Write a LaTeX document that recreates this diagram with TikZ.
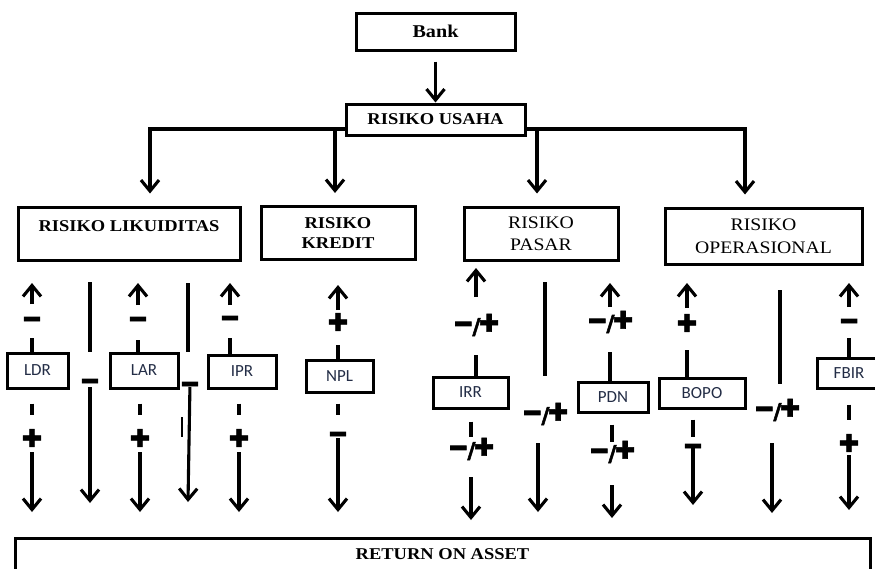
\documentclass[tikz,border=0pt]{standalone}
\usepackage{fontspec}
\setmainfont{Liberation Serif}[FakeStretch=1.12]
\newfontfamily\lblfont{Carlito}
\newfontfamily\signfont{DejaVu Sans Bold}[FakeBold=2.5]
\usetikzlibrary{arrows.meta}
\definecolor{lbl}{RGB}{35,45,70}
\newcommand\sgnminus{\scalebox{1.15}[1.55]{−}}
\newcommand\sgnplus{\scalebox{1.1}{✚}}
\newcommand\sgnboth{\raisebox{-3pt}{\sgnminus}\kern-1.5pt\raisebox{-2.5pt}{/}\kern-1.5pt\sgnplus}
\begin{document}
\begin{tikzpicture}[x=1pt,y=-1pt,
  conn/.style={line width=3.1pt},
  arr/.style={conn,-{Straight Barb[length=11pt,width=18pt]}},
  box/.style={draw,line width=3pt,fill=white,inner sep=0pt},
  bold/.style={font=\bfseries\fontsize{16.5}{20}\selectfont},
  plain/.style={font=\fontsize{17.6}{22}\selectfont},
  ind/.style={box,font=\lblfont\fontsize{17}{17}\selectfont,text=lbl},
  sgn/.style={inner sep=0pt,font=\signfont\fontsize{22}{22}\selectfont},
  sgnm/.style={sgn,text height=23.5pt,text depth=0pt},
  sgnb/.style={sgn,yshift=-2pt},
]
\useasboundingbox (0,0) rectangle (875,568);

% bus coordinates
\coordinate (busC) at (435.5,129);
\coordinate (busL) at (150,129);
\coordinate (busK) at (335,129);
\coordinate (busP) at (537,129);
\coordinate (busR) at (745,129);

% risk boxes
\node[box,bold,minimum width=222,minimum height=53,text height=11pt,text depth=16pt] (liq) at (129,233.5) {RISIKO LIKUIDITAS};
\node[box,bold,align=center,minimum width=154,minimum height=53] (kred) at (338,233) {RISIKO\\KREDIT};
\node[box,plain,align=center,minimum width=154,minimum height=53] (pasar) at (541,233.5) {RISIKO\\PASAR};
\node[box,align=center,font=\fontsize{17.6}{23}\selectfont,minimum width=197,minimum height=56] (oper) at (763.5,236) {RISIKO\\OPERASIONAL};

\draw[arr,shorten >=12pt] (busC) -- (busL) -- (busL |- liq.north);
\draw[arr,shorten >=12pt] (busC) -- (busR) -- (busR |- oper.north);
\draw[arr,shorten >=12pt] (busK) -- (busK |- kred.north);
\draw[arr,shorten >=12pt] (busP) -- (busP |- pasar.north);

\node[box,bold,minimum width=179,minimum height=31] (usaha) at (435.5,119.5) {RISIKO USAHA};
\node[box,font=\bfseries\fontsize{18}{20}\selectfont,minimum width=159,minimum height=37] (bank) at (435.5,31.5) {Bank};
\draw[arr,shorten <=10pt] (bank.south) -- (usaha.north);

% return on asset
\node[box,bold,minimum width=855,minimum height=46,text height=12pt,text depth=16pt] (roa) at (442.5,561) {RETURN ON ASSET};

% indicator boxes
\node[ind,minimum width=61,minimum height=35] (ldr) at (37.5,370.5) {LDR};
\node[ind,minimum width=68,minimum height=35] (lar) at (144,370.5) {LAR};
\node[ind,minimum width=68,minimum height=33] (ipr) at (242,371.5) {IPR};
\node[ind,minimum width=67,minimum height=32] (npl) at (339.5,376) {NPL};
\node[ind,minimum width=75,minimum height=31] (irr) at (470.5,392.5) {IRR};
\node[ind,minimum width=70,minimum height=30] (pdn) at (613,397) {PDN};
\node[ind,minimum width=86,minimum height=30] (bopo) at (702,393) {BOPO};
\node[ind,minimum width=64,minimum height=30] (fbir) at (849,373) {FBIR};

% LDR
\node[sgnm] (ldrU) at (32,318) {\sgnminus};
\node[sgn] (ldrD) at (32,438) {\sgnplus};
\coordinate (ldrT) at (32,283);
\coordinate (ldrB) at (32,512);
\draw[conn,shorten >=20pt] (ldr.north -| ldrU.center) -- (ldrU.center);
\draw[arr,shorten <=14pt] (ldrU.center) -- (ldrT);
\draw[conn,shorten <=14pt,shorten >=23pt] (ldr.south -| ldrD.center) -- (ldrD.center);
\draw[arr,shorten <=14pt] (ldrD.center) -- (ldrB);

% column between LDR and LAR
\coordinate (c2T) at (90,282);
\node[sgnm] (c2S) at (90,380) {\sgnminus};
\coordinate (c2B) at (90,503);
\draw[conn,shorten >=28pt] (c2T) -- (c2S.center);
\draw[arr,shorten <=7pt] (c2S.center) -- (c2B);

% LAR
\node[sgnm] (larU) at (138,318) {\sgnminus};
\coordinate (larT) at (138,283);
\node[sgn] (larD) at (140,438) {\sgnplus};
\coordinate (larB) at (140,512);
\draw[conn,shorten >=22pt] (lar.north -| larU.center) -- (larU.center);
\draw[arr,shorten <=13pt] (larU.center) -- (larT);
\draw[conn,shorten <=14pt,shorten >=23pt] (lar.south -| larD.center) -- (larD.center);
\draw[arr,shorten <=14pt] (larD.center) -- (larB);

% column between LAR and IPR
\coordinate (c4T) at (188,283);
\node[sgnm] (c4S) at (190,383) {\sgnminus};
\coordinate (c4B) at (188,502);
\draw[conn,shorten >=31pt] (c4T) -- (c4T |- c4S.center);
\draw[arr,shorten <=4pt] (c4S.center) -- (c4B);
\coordinate (str1) at (182,417);
\coordinate (str2) at (182,437);
\draw[line width=2.4pt] (str1) -- (str2);

% IPR
\node[sgnm] (iprU) at (230,317) {\sgnminus};
\coordinate (iprT) at (230,283);
\node[sgn] (iprD) at (239,438) {\sgnplus};
\coordinate (iprB) at (239,512);
\draw[conn,shorten >=21pt] (ipr.north -| iprU.center) -- (iprU.center);
\draw[arr,shorten <=12pt] (iprU.center) -- (iprT);
\draw[conn,shorten <=14pt,shorten >=23pt] (ipr.south -| iprD.center) -- (iprD.center);
\draw[arr,shorten <=14pt] (iprD.center) -- (iprB);

% NPL
\node[sgn] (nplU) at (338,322) {\sgnplus};
\coordinate (nplT) at (338,285);
\node[sgnm] (nplD) at (338,433) {\sgnminus};
\coordinate (nplB) at (338,512);
\draw[conn,shorten >=23pt] (npl.north -| nplU.center) -- (nplU.center);
\draw[arr,shorten <=12pt] (nplU.center) -- (nplT);
\draw[conn,shorten <=10pt,shorten >=18pt] (npl.south -| nplD.center) -- (nplD.center);
\draw[arr,shorten <=5pt] (nplD.center) -- (nplB);

% IRR
\node[sgnb] (irrU) at (476,323) {\sgnboth};
\coordinate (irrT) at (476,268);
\node[sgnb] (irrD) at (471,447) {\sgnboth};
\coordinate (irrB) at (471,520);
\draw[conn,shorten >=30pt] (irr.north -| irrU.center) -- (irrU.center);
\draw[arr,shorten <=28pt] (irrU.center) -- (irrT);
\draw[conn,shorten <=12pt,shorten >=12pt] (irr.south -| irrD.center) -- (irrD.center);
\draw[arr,shorten <=28pt] (irrD.center) -- (irrB);

% column between IRR and PDN
\coordinate (c8T) at (545,282);
\node[sgnb] (c8S) at (545,412) {\sgnboth};
\coordinate (c8B) at (538,512);
\draw[conn,shorten >=38pt] (c8T) -- (c8T |- c8S.center);
\draw[arr,shorten <=29pt] (c8S.center -| c8B) -- (c8B);

% PDN
\node[sgnb] (pdnU) at (610,320) {\sgnboth};
\coordinate (pdnT) at (610,283);
\node[sgnb] (pdnD) at (612,450) {\sgnboth};
\coordinate (pdnB) at (612,518);
\draw[conn,shorten >=30pt] (pdn.north -| pdnU.center) -- (pdnU.center);
\draw[arr,shorten <=15pt] (pdnU.center) -- (pdnT);
\draw[conn,shorten <=11pt,shorten >=10pt] (pdn.south -| pdnD.center) -- (pdnD.center);
\draw[arr,shorten <=33pt] (pdnD.center) -- (pdnB);

% BOPO
\node[sgn] (bopoU) at (687,323) {\sgnplus};
\coordinate (bopoT) at (687,283);
\node[sgnm] (bopoD) at (693,445) {\sgnminus};
\coordinate (bopoB) at (693,505);
\draw[conn,shorten >=27pt] (bopo.north -| bopoU.center) -- (bopoU.center);
\draw[arr,shorten <=15pt] (bopoU.center) -- (bopoT);
\draw[conn,shorten <=10pt,shorten >=8pt] (bopo.south -| bopoD.center) -- (bopoD.center);
\draw[arr,shorten <=3pt] (bopoD.center) -- (bopoB);

% column between BOPO and FBIR
\coordinate (c11T) at (780,290);
\node[sgnb] (c11S) at (777,408) {\sgnboth};
\coordinate (c11B) at (772,513);
\draw[conn,shorten >=26pt] (c11T) -- (c11T |- c11S.center);
\draw[arr,shorten <=33pt] (c11S.center -| c11B) -- (c11B);

% FBIR
\node[sgnm] (fbirU) at (849,320) {\sgnminus};
\coordinate (fbirT) at (849,283);
\node[sgn] (fbirD) at (849,443) {\sgnplus};
\coordinate (fbirB) at (849,510);
\draw[conn,shorten >=18pt] (fbir.north -| fbirU.center) -- (fbirU.center);
\draw[arr,shorten <=13pt] (fbirU.center) -- (fbirT);
\draw[conn,shorten <=15pt,shorten >=23pt] (fbir.south -| fbirD.center) -- (fbirD.center);
\draw[arr,shorten <=12pt] (fbirD.center) -- (fbirB);
\end{tikzpicture}
\end{document}
